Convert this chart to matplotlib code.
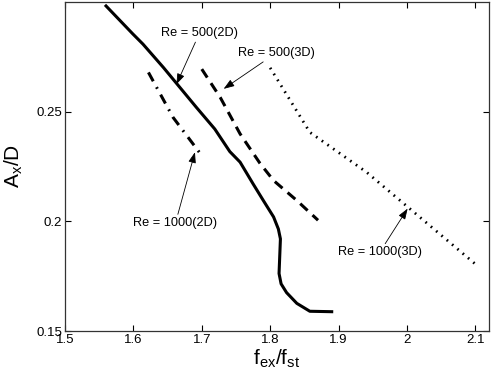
import matplotlib
matplotlib.use("Agg")
import matplotlib.pyplot as plt

plt.rcParams['font.family'] = ['Liberation Sans', 'DejaVu Sans']

# Re = 500 (2D) solid
x_500_2d = [1.560, 1.599, 1.614, 1.644, 1.666, 1.692, 1.719, 1.741, 1.756, 1.775,
            1.790, 1.805, 1.812, 1.815, 1.813, 1.816, 1.824, 1.839, 1.858, 1.890]
y_500_2d = [0.2982, 0.2855, 0.2808, 0.2701, 0.2618, 0.2520, 0.2421, 0.2318, 0.2270, 0.2171,
            0.2095, 0.2020, 0.1965, 0.1920, 0.1762, 0.1715, 0.1675, 0.1626, 0.1590, 0.1588]
# Re = 500 (3D) dashed
x_500_3d = [1.700, 1.727, 1.756, 1.785, 1.805, 1.839, 1.870]
y_500_3d = [0.2694, 0.2565, 0.2399, 0.2265, 0.2186, 0.2095, 0.2005]
# Re = 1000 (2D) dash-dot
x_1000_2d = [1.622, 1.658, 1.700]
y_1000_2d = [0.2679, 0.2474, 0.2300]
# Re = 1000 (3D) dotted
x_1000_3d = [1.800, 1.858, 1.941, 2.102]
y_1000_3d = [0.2700, 0.2406, 0.2224, 0.1800]

xticks = [1.5, 1.6, 1.7, 1.8, 1.9, 2.0, 2.1]
xticklabels = ['1.5', '1.6', '1.7', '1.8', '1.9', '2', '2.1']
yticks = [0.15, 0.2, 0.25]
yticklabels = ['0.15', '0.2', '0.25']

fig = plt.figure(figsize=(4.91, 3.8), dpi=100)
ax = fig.add_axes([65/491, 49/380, 424/491, 329/380])

ax.plot(x_500_2d, y_500_2d, color='black', lw=2.2, solid_joinstyle='round')
ax.plot(x_500_3d, y_500_3d, color='black', lw=2.2, linestyle=(0, (3.3, 2.2)))
ax.plot(x_1000_2d, y_1000_2d, color='black', lw=2.2, linestyle=(0, (3.3, 2.2, 0.6, 2.2)))
ax.plot(x_1000_3d, y_1000_3d, color='black', lw=2.0, linestyle=(0, (0.6, 1.9)))

ax.set_xlim(1.5, 2.12)
ax.set_ylim(0.15, 0.3)
ax.set_xticks(xticks)
ax.set_xticklabels(xticklabels)
ax.set_yticks(yticks)
ax.set_yticklabels(yticklabels)
ax.tick_params(direction='in', top=True, right=True, labelsize=9.5, length=4, width=0.8, pad=2)
for s in ax.spines.values():
    s.set_linewidth(0.9)
    s.set_color('#333333')

ax.set_xlabel(r'f$_{\mathregular{ex}}$/f$_{\mathregular{st}}$', fontsize=15, labelpad=1)
ax.set_ylabel(r'A$_{\mathregular{x}}$/D', fontsize=15, labelpad=8)

ap = dict(arrowstyle='-|>,head_length=0.7,head_width=0.25', color='black', lw=0.6,
          shrinkA=0, shrinkB=0)
fs = 9.2
ax.annotate('Re = 500(2D)', xy=(1.663, 0.2625), xytext=(1.6965, 0.2857),
            fontsize=fs, ha='center', va='center', arrowprops=ap)
ax.annotate('Re = 500(3D)', xy=(1.732, 0.2604), xytext=(1.8086, 0.2767),
            fontsize=fs, ha='center', va='center', arrowprops=ap)
ax.annotate('Re = 1000(2D)', xy=(1.690, 0.2315), xytext=(1.6615, 0.1992),
            fontsize=fs, ha='center', va='center', arrowprops=ap)
ax.annotate('Re = 1000(3D)', xy=(2.001, 0.2058), xytext=(1.9600, 0.1858),
            fontsize=fs, ha='center', va='center', arrowprops=ap)

fig.savefig('out.png', dpi=100)
